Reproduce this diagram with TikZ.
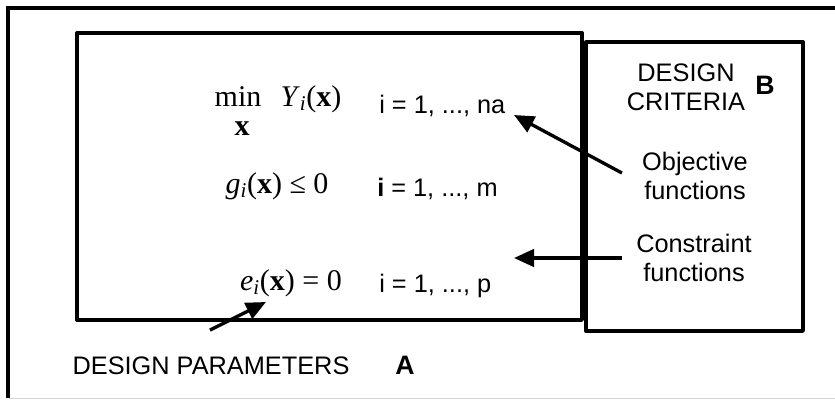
\documentclass[tikz,border=0pt]{standalone}
\usepackage{fontspec}
\setmainfont{Liberation Sans}
\newfontfamily\eqfont{Liberation Serif}
\usetikzlibrary{arrows.meta, positioning, calc}
\definecolor{lineBlack}{HTML}{000000}
\definecolor{edgeGrey}{HTML}{D4D4D4}

\begin{document}
\begin{tikzpicture}[
  x=0.75pt, y=-0.75pt,
  every node/.style={font=\fontsize{19}{22}\selectfont, inner sep=0pt},
  panel/.style={
    draw=lineBlack, line width=2.5pt, line join=round
  },
  eqn/.style={
    anchor=base, font=\eqfont\fontsize{22.5}{26}\selectfont
  },
  idxrange/.style={anchor=base west},
  sidetext/.style={align=center},
  tag/.style={font=\fontsize{20}{24}\selectfont\bfseries},
  arrow/.style={-{Triangle[length=15pt, width=13pt]}, line width=2.5pt, draw=lineBlack}
]

\useasboundingbox (0,0) rectangle (835,400);

% outer frame
\draw[draw=lineBlack, line width=2.5pt] (845,8) -- (8,8) -- (8,398);
\draw[draw=edgeGrey, line width=0.75pt] (9,398.5) -- (845,398.5);

% the two boxes
\node[panel, minimum width=378.75pt, minimum height=215.25pt] (boxA) at (329.5,176.5) {};
\node[panel, minimum width=162.75pt, minimum height=216.75pt] (boxB) at (694.5,186.5) {};

% problem statement
\node[eqn] (minop) at (238,106) {min};
\node[eqn] (minvar) at (242,135) {\textbf{x}};
\node[eqn] (objfun) at (311,106) {\textit{Y}\textsubscript{\textit{i}}(\textbf{x})};
\node[idxrange] (narange) at (379,113) {i = 1, ..., na};

\node[eqn] (ineq) at (277,193) {\textit{g}\textsubscript{\textit{i}}(\textbf{x}) ≤ 0};
\node[idxrange] (mrange) at (377,196) {\textbf{i} = 1, ..., m};

\node[eqn] (eqcon) at (291,290) {\textit{e}\textsubscript{\textit{i}}(\textbf{x}) = 0};
\node[idxrange] (prange) at (379,292) {i = 1, ..., p};

% labels
\node[sidetext] (critlbl) at (686,87) {DESIGN\\CRITERIA};
\node[tag] (tagB) at (765,85) {B};
\node[sidetext] (objlbl) at (695,176) {Objective\\functions};
\node[sidetext] (conlbl) at (694,258) {Constraint\\functions};
\node[anchor=base] (paramlbl) at (211,374) {DESIGN PARAMETERS};
\node[tag, anchor=base] (tagA) at (405,374) {A};

\coordinate (naTip) at (514,115);
\coordinate (conTip) at (514,258);
\coordinate (eTip) at (266,302);

% arrows
\draw[arrow] ($(objlbl.west)+(-20,-3)$) -- (naTip);
\draw[arrow] ($(conlbl.west)+(-14,0)$) -- (conTip);
\draw[arrow] ($(paramlbl.north)+(-1,-26)$) -- (eTip);

\end{tikzpicture}
\end{document}
